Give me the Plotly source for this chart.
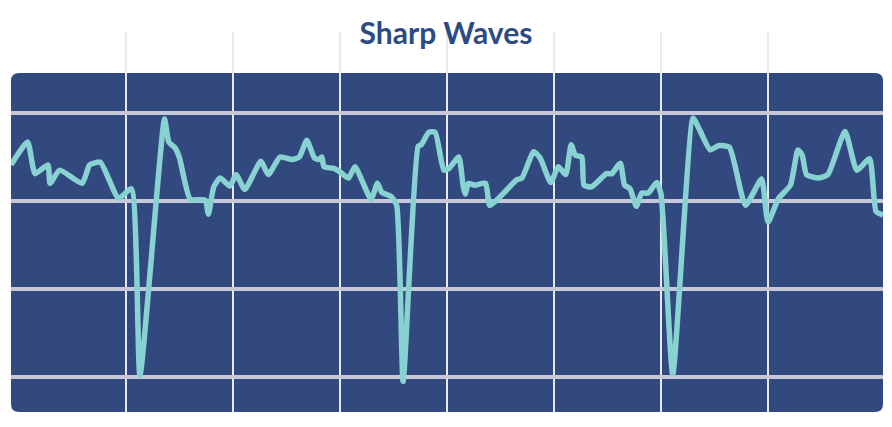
import plotly.graph_objects as go

# time (grid units) and amplitude (grid units) of the wave trace
t = [-0.075, 0.08, 0.15, 0.27, 0.29, 0.38, 0.59, 0.66, 0.76, 0.93, 1.05, 1.13,
     1.36, 1.40, 1.46, 1.50, 1.60, 1.74, 1.77, 1.82, 1.88, 1.97, 2.03, 2.11,
     2.26, 2.33, 2.44, 2.55, 2.62, 2.69, 2.76, 2.80, 2.83, 2.85, 2.94, 3.00,
     3.08, 3.14, 3.29, 3.35, 3.39, 3.48, 3.53, 3.59, 3.73, 3.76, 3.83, 3.89,
     3.97, 4.02, 4.11, 4.15, 4.17, 4.20, 4.26, 4.36, 4.40, 4.53, 4.65, 4.70,
     4.81, 4.87, 4.97, 5.04, 5.11, 5.16, 5.20, 5.26, 5.28, 5.35, 5.49, 5.54,
     5.62, 5.66, 5.71, 5.77, 5.82, 5.88, 5.96, 6.00, 6.11, 6.30, 6.36, 6.46,
     6.54, 6.64, 6.79, 6.94, 7.00, 7.10, 7.21, 7.28, 7.32, 7.36, 7.47, 7.56,
     7.72, 7.83, 7.95, 8.01, 8.075]
amp = [0.41, 0.67, 0.31, 0.41, 0.20, 0.35, 0.20, 0.41, 0.44, 0.03, 0.14, -1.98,
       0.93, 0.67, 0.60, 0.49, 0.02, 0.01, -0.15, 0.16, 0.26, 0.17, 0.30, 0.13,
       0.45, 0.30, 0.50, 0.47, 0.50, 0.69, 0.49, 0.47, 0.50, 0.39, 0.37, 0.33,
       0.26, 0.39, 0.02, 0.20, 0.10, 0.05, -0.05, -2.05, 0.62, 0.64, 0.78, 0.78,
       0.35, 0.37, 0.50, 0.18, 0.08, 0.20, 0.18, 0.20, -0.05, 0.09, 0.24, 0.26,
       0.56, 0.49, 0.21, 0.39, 0.30, 0.64, 0.52, 0.50, 0.18, 0.16, 0.31, 0.31,
       0.43, 0.18, 0.14, -0.06, 0.09, 0.09, 0.21, 0.08, -1.97, 0.94, 0.81, 0.58,
       0.63, 0.61, -0.05, 0.25, -0.24, 0.03, 0.18, 0.58, 0.52, 0.30, 0.26, 0.30,
       0.79, 0.35, 0.48, -0.12, -0.16]

x_ticks = [1, 2, 3, 4, 5, 6, 7]
y_ticks = [-2, -1, 0, 1]

BG = "#324980"
LINE = "#88d2d2"
TITLE = "#2c4a84"

fig = go.Figure()
fig.add_trace(go.Scatter(
    x=t, y=amp, mode="lines",
    line=dict(color=LINE, width=5.5, shape="spline", smoothing=0.5),
    hoverinfo="skip", showlegend=False,
))

# rounded background panel (paper coords)
rx, ry = 8 / 872, 8 / 380
top = (412 - 73) / 380
path = (f"M {rx},0 L {1-rx},0 Q 1,0 1,{ry} L 1,{top-ry} Q 1,{top} {1-rx},{top} "
        f"L {rx},{top} Q 0,{top} 0,{top-ry} L 0,{ry} Q 0,0 {rx},0 Z")
fig.add_shape(type="path", path=path, xref="paper", yref="paper",
              fillcolor=BG, line=dict(width=0), layer="below")

fig.update_layout(
    width=892, height=427,
    margin=dict(l=11, r=9, t=32, b=15),
    paper_bgcolor="white", plot_bgcolor="rgba(0,0,0,0)",
    title=dict(text="<b>Sharp Waves</b>", x=0.5, xanchor="center",
               y=1 - 33 / 427, yanchor="middle", yref="container",
               font=dict(family="Lato", size=30, color=TITLE)),
    xaxis=dict(range=[-0.075, 8.075], tickvals=x_ticks, showgrid=True,
               gridcolor="#e9e9f3", gridwidth=2, zeroline=False,
               showticklabels=False, ticks="", showline=False, fixedrange=True),
    yaxis=dict(range=[-2.398, 1.92], tickvals=y_ticks, showgrid=True,
               gridcolor="#c5c9da", gridwidth=3.5, zeroline=False,
               showticklabels=False, ticks="", showline=False, fixedrange=True),
)

fig.write_html("out.html", config={"displayModeBar": False},
               post_script="document.body.style.margin='0';document.body.style.padding='0';")
